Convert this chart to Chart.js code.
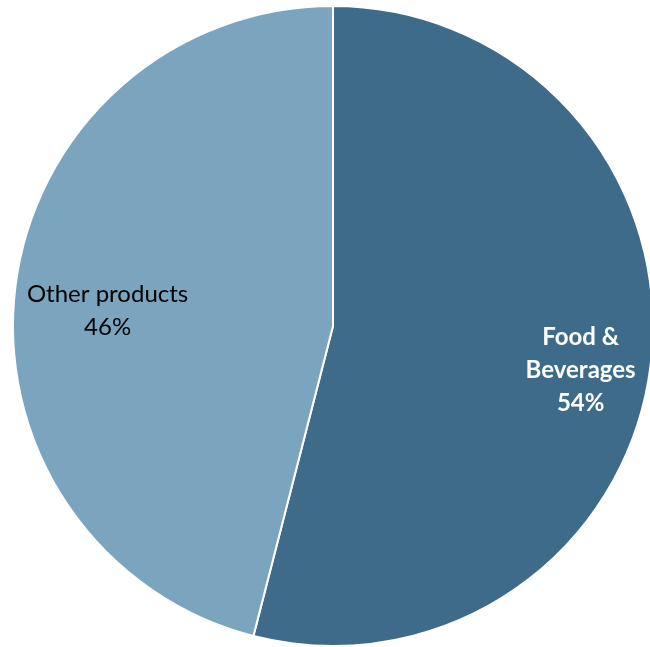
<!DOCTYPE html>
<html>
<head>
<meta charset="utf-8">
<script src="https://cdn.jsdelivr.net/npm/chart.js@4"></script>
<style>
  html, body { margin: 0; padding: 0; background: #fff; overflow: hidden; }
  #wrap { position: relative; width: 666px; height: 652px; }
</style>
</head>
<body>
<div id="wrap"><canvas id="pie"></canvas></div>
<script>
// pie data
const categories = ['Food & Beverages', 'Other products'];
const labelLines = [['Food &', 'Beverages'], ['Other products']];
const shares = [54, 46];
const sliceColors = ['#3e6b8a', '#7ba4be'];

// label placement (fraction of radius) and styling per slice
const labelDist = [0.78, 0.71];
const labelColor = ['#ffffff', '#000000'];
const labelWeight = ['bold', 'normal'];

const sliceLabels = {
    id: 'sliceLabels',
    afterDatasetsDraw(chart) {
        const ctx = chart.ctx;
        const meta = chart.getDatasetMeta(0);
        meta.data.forEach((arc, i) => {
            const p = arc.getProps(['x', 'y', 'startAngle', 'endAngle', 'outerRadius'], true);
            const mid = (p.startAngle + p.endAngle) / 2;
            const r = p.outerRadius * labelDist[i];
            const cx = p.x + Math.cos(mid) * r;
            const cy = p.y + Math.sin(mid) * r + 13;
            const lines = labelLines[i].concat([shares[i] + '%']);
            const lh = 33;
            ctx.save();
            ctx.font = labelWeight[i] + ' 24px Lato, "Open Sans", sans-serif';
            ctx.fillStyle = labelColor[i];
            ctx.textAlign = 'center';
            ctx.textBaseline = 'middle';
            lines.forEach((t, j) => {
                ctx.fillText(t, cx, cy + (j - (lines.length - 1) / 2) * lh);
            });
            ctx.restore();
        });
    }
};

new Chart(document.getElementById('pie'), {
    type: 'pie',
    data: {
        labels: categories,
        datasets: [{
            data: shares,
            backgroundColor: sliceColors,
            borderColor: '#ffffff',
            borderWidth: 2
        }]
    },
    options: {
        responsive: true,
        maintainAspectRatio: false,
        animation: false,
        layout: { padding: 5 },
        plugins: {
            legend: { display: false },
            tooltip: { enabled: false }
        }
    },
    plugins: [sliceLabels]
});
</script>
</body>
</html>
